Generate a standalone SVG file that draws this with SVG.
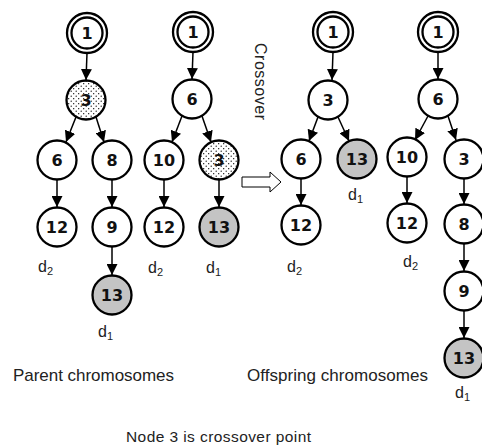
<svg xmlns="http://www.w3.org/2000/svg" width="482" height="447" viewBox="0 0 482 447">
<style>
.n{fill:#fff;stroke:#000;stroke-width:2.3}
.g{fill:#c4c4c4;stroke:#000;stroke-width:2.3}
.dot{fill:url(#dots);stroke:#000;stroke-width:2.3}
.lb{font-family:"DejaVu Sans",Verdana,sans-serif;font-weight:bold;font-size:16px;text-anchor:middle;dominant-baseline:central;fill:#111}
.e{stroke:#000;stroke-width:1.5;fill:none;marker-end:url(#ah)}
.t{font-family:"Liberation Sans",Arial,sans-serif;fill:#222}
.d{font-family:"Liberation Sans",Arial,sans-serif;font-size:16px;fill:#222}
.s{font-size:11px}
</style>
<defs>
<pattern id="dots" width="5" height="5" patternUnits="userSpaceOnUse">
<rect width="5" height="5" fill="#fff"/>
<circle cx="1.2" cy="1.2" r="0.65" fill="#000"/>
<circle cx="3.7" cy="3.7" r="0.65" fill="#000"/>
</pattern>
<marker id="ah" markerWidth="11" markerHeight="11" refX="11" refY="5.5" orient="auto" markerUnits="userSpaceOnUse">
<path d="M0,0 L11,5.5 L0,11 Z" fill="#000"/>
</marker>
</defs>

<g id="connectors">
<line class="e" x1="87" y1="53" x2="86" y2="80"/>
<line class="e" x1="76" y1="117" x2="66" y2="142"/>
<line class="e" x1="96" y1="117" x2="104" y2="142"/>
<line class="e" x1="57" y1="180" x2="57" y2="207"/>
<line class="e" x1="112" y1="180" x2="112" y2="207"/>
<line class="e" x1="112" y1="247" x2="112" y2="275"/>
<line class="e" x1="193" y1="52" x2="192" y2="79"/>
<line class="e" x1="182" y1="116" x2="172" y2="142"/>
<line class="e" x1="202" y1="116" x2="211" y2="142"/>
<line class="e" x1="164" y1="180" x2="164" y2="207"/>
<line class="e" x1="219" y1="180" x2="219" y2="207"/>
<line class="e" x1="333" y1="52" x2="332" y2="80"/>
<line class="e" x1="318" y1="117" x2="309" y2="141"/>
<line class="e" x1="338" y1="117" x2="349" y2="141"/>
<line class="e" x1="301" y1="179" x2="301" y2="205"/>
<line class="e" x1="438" y1="52" x2="438" y2="79"/>
<line class="e" x1="428" y1="116" x2="415" y2="140"/>
<line class="e" x1="448" y1="116" x2="456" y2="140"/>
<line class="e" x1="407" y1="177" x2="407" y2="203"/>
<line class="e" x1="464" y1="179" x2="464" y2="204"/>
<line class="e" x1="464" y1="244" x2="464" y2="271"/>
<line class="e" x1="464" y1="311" x2="464" y2="338"/>
</g>

<g id="t1-n1"><circle class="n" cx="87" cy="33" r="20"/><circle class="n" cx="87" cy="33" r="15.5"/><text class="lb" x="87" y="33">1</text></g>
<g id="t1-n3"><circle class="dot" cx="86" cy="100" r="19.5"/><text class="lb" x="86" y="100">3</text></g>
<g id="t1-n6"><circle class="n" cx="57" cy="160" r="19.5"/><text class="lb" x="57" y="160">6</text></g>
<g id="t1-n8"><circle class="n" cx="112" cy="160" r="19.5"/><text class="lb" x="112" y="160">8</text></g>
<g id="t1-n12"><circle class="n" cx="57" cy="227" r="19.5"/><text class="lb" x="57" y="227">12</text></g>
<g id="t1-n9"><circle class="n" cx="112" cy="227" r="19.5"/><text class="lb" x="112" y="227">9</text></g>
<g id="t1-n13"><circle class="g" cx="112" cy="295" r="19.5"/><text class="lb" x="112" y="295">13</text></g>

<g id="t2-n1"><circle class="n" cx="193" cy="32" r="20"/><circle class="n" cx="193" cy="32" r="15.5"/><text class="lb" x="193" y="32">1</text></g>
<g id="t2-n6"><circle class="n" cx="192" cy="99" r="19.5"/><text class="lb" x="192" y="99">6</text></g>
<g id="t2-n10"><circle class="n" cx="164" cy="160" r="19.5"/><text class="lb" x="164" y="160">10</text></g>
<g id="t2-n3"><circle class="dot" cx="219" cy="160" r="19.5"/><text class="lb" x="219" y="160">3</text></g>
<g id="t2-n12"><circle class="n" cx="164" cy="227" r="19.5"/><text class="lb" x="164" y="227">12</text></g>
<g id="t2-n13"><circle class="g" cx="219" cy="227" r="19.5"/><text class="lb" x="219" y="227">13</text></g>

<g id="t3-n1"><circle class="n" cx="333" cy="32" r="20"/><circle class="n" cx="333" cy="32" r="15.5"/><text class="lb" x="333" y="32">1</text></g>
<g id="t3-n3"><circle class="n" cx="328" cy="100" r="19.5"/><text class="lb" x="328" y="100">3</text></g>
<g id="t3-n6"><circle class="n" cx="301" cy="159" r="19.5"/><text class="lb" x="301" y="159">6</text></g>
<g id="t3-n13"><circle class="g" cx="357" cy="159" r="19.5"/><text class="lb" x="357" y="159">13</text></g>
<g id="t3-n12"><circle class="n" cx="301" cy="225" r="19.5"/><text class="lb" x="301" y="225">12</text></g>

<g id="t4-n1"><circle class="n" cx="438" cy="32" r="20"/><circle class="n" cx="438" cy="32" r="15.5"/><text class="lb" x="438" y="32">1</text></g>
<g id="t4-n6"><circle class="n" cx="438" cy="99" r="19.5"/><text class="lb" x="438" y="99">6</text></g>
<g id="t4-n10"><circle class="n" cx="407" cy="157" r="19.5"/><text class="lb" x="407" y="157">10</text></g>
<g id="t4-n3"><circle class="n" cx="464" cy="159" r="19.5"/><text class="lb" x="464" y="159">3</text></g>
<g id="t4-n12"><circle class="n" cx="407" cy="223" r="19.5"/><text class="lb" x="407" y="223">12</text></g>
<g id="t4-n8"><circle class="n" cx="464" cy="224" r="19.5"/><text class="lb" x="464" y="224">8</text></g>
<g id="t4-n9"><circle class="n" cx="464" cy="291" r="19.5"/><text class="lb" x="464" y="291">9</text></g>
<g id="t4-n13"><circle class="g" cx="464" cy="358" r="19.5"/><text class="lb" x="464" y="358">13</text></g>

<text class="d" x="38" y="272">d<tspan class="s" dy="3">2</tspan></text>
<text class="d" x="98" y="337">d<tspan class="s" dy="3">1</tspan></text>
<text class="d" x="148" y="273">d<tspan class="s" dy="3">2</tspan></text>
<text class="d" x="206" y="273">d<tspan class="s" dy="3">1</tspan></text>
<text class="d" x="348" y="200">d<tspan class="s" dy="3">1</tspan></text>
<text class="d" x="287" y="272">d<tspan class="s" dy="3">2</tspan></text>
<text class="d" x="403" y="267">d<tspan class="s" dy="3">2</tspan></text>
<text class="d" x="455" y="398">d<tspan class="s" dy="3">1</tspan></text>

<path d="M242,177 L270,177 L270,172 L281,182 L270,192 L270,187 L242,187 Z" fill="#fff" stroke="#000" stroke-width="1"/>
<text class="t" font-size="16" transform="translate(255,43) rotate(90)" textLength="77" lengthAdjust="spacing">Crossover</text>

<text class="t" font-size="17" x="13" y="381" textLength="161" lengthAdjust="spacing">Parent chromosomes</text>
<text class="t" font-size="17" x="247" y="381" textLength="181" lengthAdjust="spacing">Offspring chromosomes</text>
<text class="t" font-size="15.5" x="126" y="442" textLength="185" lengthAdjust="spacing">Node 3 is crossover point</text>
</svg>
